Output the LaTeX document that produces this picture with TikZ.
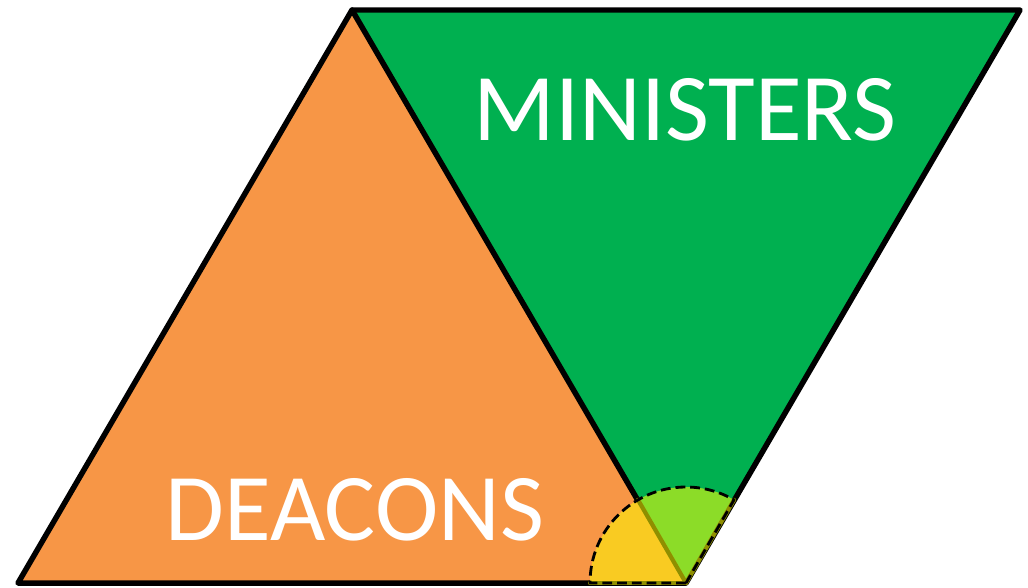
\documentclass[tikz,border=0pt]{standalone}
\usepackage{fontspec}
\setmainfont{Carlito}
\definecolor{deaconorange}{HTML}{F79646}
\definecolor{ministergreen}{HTML}{00B050}
\definecolor{lightgreen}{HTML}{8CDC28}
\definecolor{sectoryellow}{HTML}{F9CB22}
\definecolor{olive}{HTML}{8F8F00}
\begin{document}
\begin{tikzpicture}[x=0.025cm, y=-0.025cm, line join=round, line cap=round,
	label/.style={text=white, font=\fontsize{68}{68}\selectfont, inner sep=0pt}]
			\useasboundingbox (0,0) rectangle (1028,587);
			\coordinate (A) at (18,583);
			\coordinate (T) at (352,10);
			\coordinate (R) at (1020,10);
			\coordinate (B) at (686,583);
			\fill[deaconorange] (A) -- (T) -- (B) -- cycle;
			\fill[ministergreen] (T) -- (R) -- (B) -- cycle;
			\draw[line width=3.9pt] (A) -- (T) -- (R) -- (B) -- cycle;
			\draw[line width=3.9pt] (T) -- (B);
			% sector at the bottom vertex (y axis points down)
			\fill[sectoryellow] (B) -- ++(180:96) arc (180:240:96) -- cycle;
			\fill[lightgreen] (B) -- ++(240:96) arc (240:300:96) -- cycle;
			\draw[olive, line width=3pt] (B) -- ++(180:96);
			\draw[olive, line width=3pt] (B) -- ++(240:96);
			\draw[olive, line width=3pt] (B) -- ++(300:96);
			\draw[line width=2pt, line cap=butt, dash pattern=on 7pt off 3.5pt] (B) -- ++(180:96) arc (180:300:96) -- cycle;
			\node[label] (ministers) at (685,110) {MINISTERS};
			\node[label] (deacons) at (355,510) {DEACONS};
	\end{tikzpicture}
\end{document}
